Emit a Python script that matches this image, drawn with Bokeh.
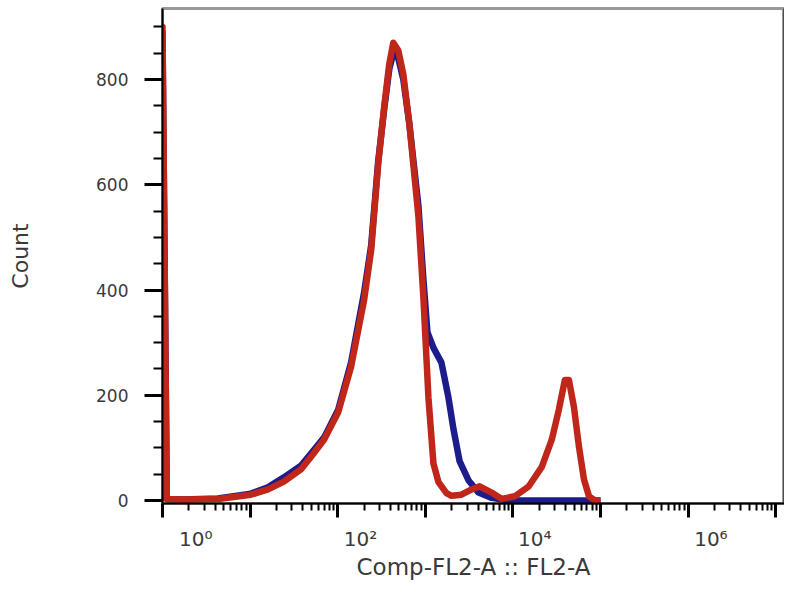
from bokeh.plotting import figure
from bokeh.models import (FixedTicker, LogAxis, LinearAxis, Range1d,
                          CustomJSTickFormatter, SingleIntervalTicker)
from bokeh.embed import file_html
from bokeh.resources import INLINE

# ---- data ----
red_x = [1.0, 1.0, 1.12, 1.74, 4.3, 10.2, 16, 24.3, 38, 54, 70, 101, 142, 200,
         241, 290, 340, 388, 431, 492, 561, 658, 834, 951, 1086, 1239, 1413,
         1745, 1990, 2590, 3375, 4170, 5720, 7450, 10490, 15180, 21370, 27810,
         33480, 39190, 43540, 49680, 56750, 64710, 73830, 86430, 100000]
red_y = [0, 900, 3, 2, 3, 11, 21, 36, 59, 91, 116, 167, 254, 381,
         476, 640, 750, 830, 870, 855, 810, 715, 540, 385, 195, 70, 35,
         14, 9, 11, 21, 27, 15, 3, 8, 27, 64, 116,
         173, 229, 229, 178, 102, 40, 8, 0, 0]

blue_x = [1.0, 1.0, 1.12, 1.74, 4.3, 10.2, 16, 24.3, 38, 54, 70, 101, 142, 200,
          241, 290, 340, 388, 431, 492, 561, 658, 834, 951, 1057, 1239, 1528,
          1840, 2099, 2460, 3120, 4055, 5720, 8950, 100000]
blue_y = [0, 890, 3, 2, 4, 13, 25, 44, 66, 97, 120, 172, 262, 395,
          485, 645, 745, 820, 850, 840, 800, 715, 560, 420, 320, 290, 262,
          195, 135, 75, 38, 15, 5, 0, 0]

x_decades = [1, 10, 100, 1000, 10000, 100000, 1000000, 10000000]
x_label_exponents = [0, 2, 4, 6]
y_major_interval = 200

FONT = "DejaVu Sans"
TXT = "#3a3a3a"

p = figure(width=784, height=584, x_axis_type="log",
           x_range=Range1d(1, 10 ** 7.10), y_range=Range1d(-5.7, 935),
           output_backend="svg", toolbar_location=None,
           min_border_left=162, min_border_right=0, min_border_top=8,
           min_border_bottom=81)

p.background_fill_color = "white"
p.border_fill_color = "white"
p.outline_line_color = "#999999"
p.outline_line_width = 3
p.xgrid.visible = False
p.ygrid.visible = False

# curves
p.line(blue_x, blue_y, line_color="#1c1c8a", line_width=6.5, line_join="round")
p.line(red_x, red_y, line_color="#c0261a", line_width=6.5, line_join="round")

# main x axis: ticks only (labels invisible)
minor = [m * d for d in x_decades[:-1] for m in range(2, 10)]
xa = p.xaxis[0]
xa.ticker = FixedTicker(ticks=x_decades, minor_ticks=minor)
xa.formatter = CustomJSTickFormatter(code="return ' ';")
xa.axis_line_color = "black"
xa.axis_line_width = 2
xa.major_tick_out = 14
xa.major_tick_in = 0
xa.minor_tick_out = 7
xa.minor_tick_in = 0
xa.major_tick_line_width = 3
xa.minor_tick_line_width = 2
xa.major_tick_line_color = "black"
xa.minor_tick_line_color = "black"
xa.major_label_text_font_size = "1px"
xa.major_label_text_color = None
xa.major_label_standoff = 0

# label axis: decade labels slightly right of their ticks
offsets = [0.38, 0.26, 0.25, 0.26]
label_ticks = [10 ** (e + o) for e, o in zip(x_label_exponents, offsets)]
fmt = CustomJSTickFormatter(code="""
const sup = {"0":"\u2070","1":"\u00b9","2":"\u00b2","3":"\u00b3","4":"\u2074","5":"\u2075","6":"\u2076","7":"\u2077"};
const e = Math.floor(Math.log10(tick));
return "10" + sup[String(e)];
""")
la = LogAxis(ticker=FixedTicker(ticks=label_ticks, minor_ticks=[]), formatter=fmt)
la.axis_line_color = None
la.major_tick_line_color = None
la.minor_tick_line_color = None
la.major_tick_out = 0
la.major_tick_in = 0
la.major_label_text_font = FONT
la.major_label_text_font_size = "20px"
la.major_label_text_color = TXT
la.major_label_standoff = 9
la.axis_label = "Comp-FL2-A :: FL2-A"
la.axis_label_text_font = FONT
la.axis_label_text_font_size = "23px"
la.axis_label_text_font_style = "normal"
la.axis_label_text_color = TXT
la.axis_label_standoff = 0
p.add_layout(la, "below")

# y axis
ya = p.yaxis[0]
ya.ticker = SingleIntervalTicker(interval=y_major_interval, num_minor_ticks=4)
ya.axis_line_color = "black"
ya.axis_line_width = 2
ya.major_tick_out = 18
ya.major_tick_in = 0
ya.minor_tick_out = 9
ya.minor_tick_in = 0
ya.major_tick_line_width = 3
ya.minor_tick_line_width = 2
ya.major_tick_line_color = "black"
ya.minor_tick_line_color = "black"
ya.major_label_text_font = FONT
ya.major_label_text_font_size = "17px"
ya.major_label_text_color = TXT
ya.major_label_standoff = 16
ya.axis_label = "Count"
ya.axis_label_text_font = FONT
ya.axis_label_text_font_size = "22px"
ya.axis_label_text_font_style = "normal"
ya.axis_label_text_color = TXT
ya.axis_label_standoff = 60

# right border line
ra = LinearAxis(ticker=FixedTicker(ticks=[-1000], minor_ticks=[]),
                formatter=CustomJSTickFormatter(code="return ' ';"))
ra.axis_line_color = "black"
ra.axis_line_width = 2
ra.major_tick_line_color = None
ra.minor_tick_line_color = None
ra.major_label_text_font_size = "1px"
ra.major_label_text_color = None
ra.major_tick_out = 0
ra.major_tick_in = 0
ra.major_label_standoff = 0
p.add_layout(ra, "right")

with open("out.html", "w", encoding="utf-8") as f:
    f.write(file_html(p, INLINE))
